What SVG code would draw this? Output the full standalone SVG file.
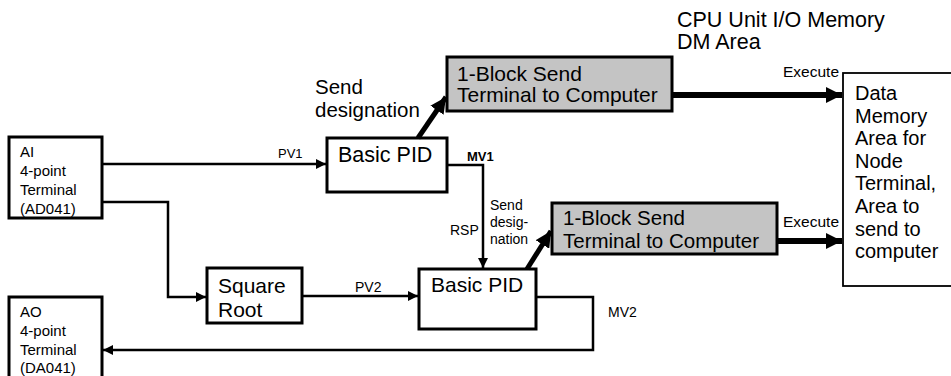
<svg xmlns="http://www.w3.org/2000/svg" width="951" height="376" viewBox="0 0 951 376">
<style>
  text { font-family: "Liberation Sans", Arial, sans-serif; fill: #000; }
  .big { font-size: 20px; }
  .b21 { font-size: 21px; }
  .mid { font-size: 14px; }
  .term { font-size: 15px; }
  .sm { font-size: 13px; }
  .box { fill: #fff; stroke: #000; stroke-width: 3; }
  .grey { fill: #c4c4c4; stroke: #000; stroke-width: 3; }
  .thin { fill: none; stroke: #000; stroke-width: 2.5; }
  .thick { fill: none; stroke: #000; stroke-width: 6; }
</style>
<defs>
  <marker id="ah" markerUnits="userSpaceOnUse" markerWidth="12" markerHeight="10" refX="10" refY="5" orient="auto">
    <path d="M0,0 L10,5 L0,10 Z" fill="#000"/>
  </marker>
  <marker id="ahb" markerUnits="userSpaceOnUse" markerWidth="18" markerHeight="16" refX="16" refY="8" orient="auto">
    <path d="M0,0 L16,8 L0,16 Z" fill="#000"/>
  </marker>
</defs>

<text x="677" y="27" font-size="21.5">CPU Unit I/O Memory</text>
<text x="677" y="49" font-size="21.5">DM Area</text>

<g id="ai">
  <rect class="box" x="9" y="137" width="93" height="81"/>
  <text class="term" x="20" y="157">AI</text>
  <text class="term" x="20" y="176">4-point</text>
  <text class="term" x="20" y="195">Terminal</text>
  <text class="term" x="20" y="214">(AD041)</text>
</g>
<g id="ao">
  <rect class="box" x="9" y="297" width="93" height="90"/>
  <text class="term" x="20" y="317">AO</text>
  <text class="term" x="20" y="336">4-point</text>
  <text class="term" x="20" y="355">Terminal</text>
  <text class="term" x="20" y="373">(DA041)</text>
</g>
<g id="sqrt">
  <rect class="box" x="207" y="268" width="95" height="55"/>
  <text class="b21" x="218" y="293">Square</text>
  <text class="b21" x="218" y="317">Root</text>
</g>
<g id="pid1">
  <rect class="box" x="327" y="138" width="120" height="54"/>
  <text x="338" y="162" font-size="21.5">Basic PID</text>
</g>
<g id="pid2">
  <rect class="box" x="419" y="269" width="117" height="60"/>
  <text class="b21" x="431" y="292">Basic PID</text>
</g>
<g id="send1">
  <rect class="grey" x="447" y="57" width="225" height="54"/>
  <text class="b21" x="457" y="81">1-Block Send</text>
  <text class="b21" x="457" y="102">Terminal to Computer</text>
</g>
<g id="send2">
  <rect class="grey" x="552" y="203" width="225" height="51"/>
  <text x="563" y="225" font-size="20.5">1-Block Send</text>
  <text x="563" y="248" font-size="20.5">Terminal to Computer</text>
</g>
<g id="dm">
  <rect x="843" y="73" width="120" height="213" fill="#fff" stroke="#000" stroke-width="1.8"/>
  <text class="big" x="855" y="100">Data</text>
  <text class="big" x="855" y="122.6">Memory</text>
  <text class="big" x="855" y="145.2">Area for</text>
  <text class="big" x="855" y="167.8">Node</text>
  <text class="big" x="855" y="190.4">Terminal,</text>
  <text class="big" x="855" y="213">Area to</text>
  <text class="big" x="855" y="235.6">send to</text>
  <text class="big" x="855" y="258.2">computer</text>
</g>

<g id="connectors">
  <line class="thin" x1="102" y1="164" x2="326" y2="164" marker-end="url(#ah)"/>
  <polyline class="thin" points="102,202 168,202 168,297 206,297" marker-end="url(#ah)"/>
  <line class="thin" x1="302" y1="296" x2="418" y2="296" marker-end="url(#ah)"/>
  <polyline class="thin" points="447,165 483,165 483,268" marker-end="url(#ah)"/>
  <polyline class="thin" points="536,297 593,297 593,350 103,350" marker-end="url(#ah)"/>
  <line x1="418" y1="138" x2="446" y2="97" stroke="#000" stroke-width="5" marker-end="url(#ahb)"/>
  <line x1="527" y1="269" x2="551" y2="231" stroke="#000" stroke-width="5" marker-end="url(#ahb)"/>
  <line class="thick" x1="672" y1="95" x2="842" y2="95" marker-end="url(#ahb)"/>
  <line class="thick" x1="777" y1="241" x2="842" y2="241" marker-end="url(#ahb)"/>
</g>

<text x="315" y="94" font-size="20.5">Send</text>
<text x="315" y="117" font-size="20.5">designation</text>
<text class="sm" x="278" y="158">PV1</text>
<text class="mid" x="355" y="292">PV2</text>
<text class="sm" x="467" y="161" font-weight="bold">MV1</text>
<text class="mid" x="608" y="317">MV2</text>
<text class="mid" x="450" y="235">RSP</text>
<text class="mid" x="490" y="210">Send</text>
<text class="mid" x="490" y="227">desig-</text>
<text class="mid" x="490" y="244">nation</text>
<text x="783" y="77" font-size="15.5">Execute</text>
<text x="783" y="227" font-size="15.5">Execute</text>
</svg>
